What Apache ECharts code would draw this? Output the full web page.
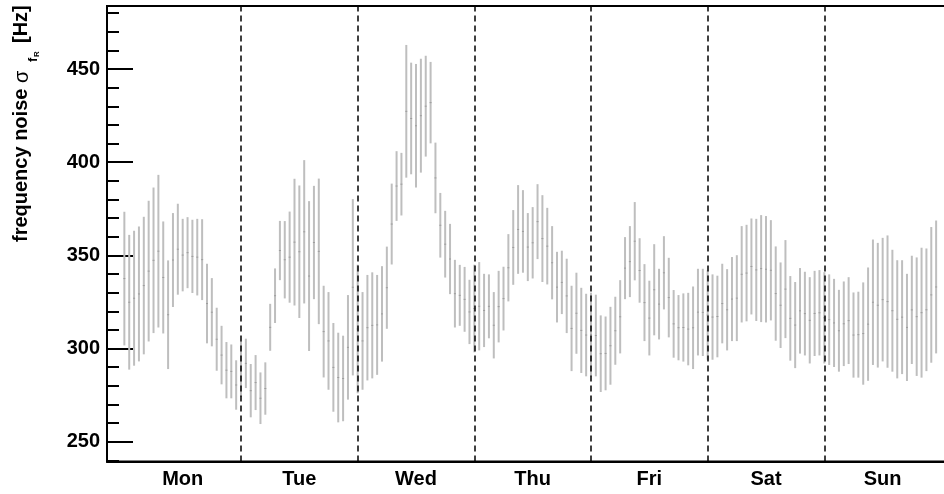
<!DOCTYPE html>
<html><head><meta charset="utf-8">
<script src="https://cdn.jsdelivr.net/npm/echarts@6/dist/echarts.min.js"></script>
<style>html,body{margin:0;padding:0;background:#fff}#c{width:944px;height:494px}</style>
</head><body><div id="c"></div>
<script>
// ---- data ----
const days = ['Mon','Tue','Wed','Thu','Fri','Sat','Sun'];
const yMajorTicks = [250,300,350,400,450];
const yMinorTicks = [240,260,270,280,290,310,320,330,340,360,370,380,390,410,420,430,440,460,470,480];

const monHigh = [373.4,361.0,363.2,365.5,370.7,379.3,386.4,393.2,368.2,347.3,372.7,377.7,369.6,370.5,369.1,369.6,369.4,345.5,337.8,321.9,312.2,303.5,302.2,293.7];
const monLow  = [301.7,288.7,290.8,293.1,296.9,303.8,308.3,311.3,308.1,289.0,322.3,328.9,330.7,332.4,329.8,328.5,326.0,302.8,301.2,288.1,280.8,273.3,273.3,267.2];
const tueHigh = [304.0,305.3,291.7,296.5,287.2,292.6,324.0,343.0,368.5,368.4,373.5,391.1,387.5,401.1,379.1,387.3,391.2,333.7,330.3,313.7,308.5,306.9,328.7,380.2];
const tueLow  = [274.0,278.8,263.1,267.0,259.5,264.5,298.8,313.7,336.7,326.9,324.6,323.1,316.4,324.2,298.7,326.5,313.1,284.5,277.9,266.1,260.4,261.0,272.6,285.6];
const wedHigh = [345.0,330.3,339.5,340.9,339.5,344.2,354.7,388.5,405.9,405.0,462.9,453.4,452.7,455.5,457.1,453.8,410.5,383.5,373.9,366.9,347.6,344.9,343.8,336.9];
const wedLow  = [276.0,277.9,282.9,284.0,285.9,293.0,310.6,345.1,368.5,371.4,391.7,393.5,386.4,394.4,403.0,410.1,372.6,348.8,338.1,329.2,311.3,312.2,309.0,302.4];
const thuHigh = [345.0,346.4,340.1,339.8,330.3,341.7,343.9,361.4,374.3,387.7,385.0,372.7,375.9,388.2,382.3,375.5,365.7,351.9,352.5,348.2,333.7,340.7,332.6,329.4];
const thuLow  = [298.0,299.0,300.8,305.5,294.7,303.3,309.7,325.3,334.2,340.1,340.7,336.2,337.6,348.0,335.7,334.4,326.4,314.0,318.5,308.3,287.9,297.2,286.9,285.1];
const friHigh = [330.0,328.9,317.8,317.2,322.4,327.8,336.7,359.8,365.7,378.6,359.2,345.3,336.4,356.0,342.8,360.3,348.7,331.4,328.7,329.6,329.9,333.3,342.8,342.8];
const friLow  = [285.0,285.1,276.7,277.6,280.6,291.3,297.4,326.5,327.6,336.6,324.6,304.0,296.3,307.1,304.9,321.0,306.0,295.1,293.7,293.0,291.0,289.0,296.3,296.0];
const satHigh = [342.0,339.8,339.1,345.5,342.6,349.1,350.1,365.7,366.4,369.8,369.6,371.6,371.1,368.9,354.8,346.2,358.2,338.9,335.7,343.2,341.2,338.3,341.7,342.1];
const satLow  = [294.0,294.0,295.3,302.8,299.0,304.0,304.0,314.0,314.6,318.3,314.8,314.2,314.0,315.1,304.2,300.3,305.6,293.5,289.5,297.3,296.3,292.0,296.0,296.3];
const sunHigh = [341.0,339.8,337.4,331.5,336.0,338.3,330.1,330.5,335.5,343.5,358.5,356.7,359.4,360.7,353.0,347.4,347.4,340.1,349.8,348.9,354.1,353.7,365.2,368.7];
const sunLow  = [292.0,291.2,290.1,287.6,290.6,291.7,284.4,284.4,280.6,282.7,291.2,289.8,293.1,289.7,287.6,284.0,286.3,282.6,291.7,285.3,284.4,287.9,292.4,297.4];

// ---- build ----
const highs = [].concat(monHigh,tueHigh,wedHigh,thuHigh,friHigh,satHigh,sunHigh);
const lows  = [].concat(monLow,tueLow,wedLow,thuLow,friLow,satLow,sunLow);
const HOURS = 24;
const seriesData = highs.map((h,i)=>[i, lows[i], h]);
const dayBounds = days.slice(1).map((d,i)=>(i+1)*HOURS);
const dayCenters = days.map((d,i)=>i*HOURS + HOURS/2);

const FONT = '"Liberation Sans", Arial, Helvetica, sans-serif';
const L = 107, T = 6, R = 946, B = 461.5;
const chart = echarts.init(document.getElementById('c'), null, {renderer:'canvas'});

const yMin = 239.4, yMax = 483.8;
const xMin = -3.57, xMax = 169.03;
const option = {
  animation: false,
  backgroundColor: '#fff',
  grid: {left: L, top: T, width: R - L, height: B - T, show: true, borderColor: '#000', borderWidth: 2, outerBoundsMode: 'none', containLabel: false},
  xAxis: {
    type: 'value', min: xMin, max: xMax,
    axisLine: {show: true, onZero: false, lineStyle: {color: '#000', width: 2}},
    axisTick: {show: false}, splitLine: {show: false},
    axisLabel: {customValues: dayCenters, formatter: v => days[Math.round((v - HOURS/2)/HOURS)],
      fontFamily: FONT, fontWeight: 'bold', fontSize: 20, color: '#000', margin: 8}
  },
  yAxis: [{
    type: 'value', min: yMin, max: yMax, position: 'left',
    axisLine: {show: true, onZero: false, lineStyle: {color: '#000', width: 2}},
    axisTick: {show: true, inside: true, length: 26, customValues: yMajorTicks, lineStyle: {color: '#000', width: 2}},
    axisLabel: {customValues: yMajorTicks, fontFamily: FONT, fontWeight: 'bold', fontSize: 20, color: '#000', margin: 7},
    splitLine: {show: false}
  }, {
    type: 'value', min: yMin, max: yMax, position: 'left', offset: 0,
    axisLine: {show: false, onZero: false},
    axisTick: {show: true, inside: true, length: 12, customValues: yMinorTicks, lineStyle: {color: '#000', width: 2}},
    axisLabel: {show: false}, splitLine: {show: false}
  }],
  graphic: [{
    type: 'group', x: 0, y: 242, rotation: Math.PI/2,
    children: [
      {type: 'text', x: 0, y: 21, style: {text: 'frequency noise ', font: 'bold 20px ' + FONT, fill: '#000', verticalAlign: 'middle', align: 'left'}},
      {type: 'text', x: 159, y: 22, style: {text: 'σ', font: '20px ' + FONT, fill: '#000', verticalAlign: 'middle', align: 'left'}},
      {type: 'text', x: 180, y: 33, style: {text: 'f', font: 'bold 13px ' + FONT, fill: '#000', verticalAlign: 'middle', align: 'left'}},
      {type: 'text', x: 185, y: 37, style: {text: 'R', font: 'bold 8px ' + FONT, fill: '#000', verticalAlign: 'middle', align: 'left'}},
      {type: 'text', x: 199, y: 21, style: {text: '[Hz]', font: 'bold 20px ' + FONT, fill: '#000', verticalAlign: 'middle', align: 'left'}}
    ]
  }],
  series: [{
    type: 'custom', xAxisIndex: 0, yAxisIndex: 0, clip: false,
    data: seriesData, encode: {x: 0, y: [1, 2]},
    renderItem: function (params, api) {
      const x = api.value(0), lo = api.value(1), hi = api.value(2);
      const p1 = api.coord([x, hi]), p2 = api.coord([x, lo]);
      const pm = api.coord([x, (lo + hi) / 2]);
      return {type: 'group', children: [
        {type: 'rect', shape: {x: p1[0] - 1, y: p1[1], width: 2, height: p2[1] - p1[1]}, style: {fill: '#bebebe'}},
        {type: 'rect', shape: {x: pm[0] - 1, y: pm[1] - 0.5, width: 2, height: 1}, style: {fill: '#9c9c9c'}}
      ]};
    },
    markLine: {
      silent: true, symbol: 'none', label: {show: false}, animation: false,
      lineStyle: {color: '#000', width: 1.5, type: [6, 4]},
      data: dayBounds.map(v => ({xAxis: v}))
    }
  }]
};
chart.setOption(option);
</script>
</body></html>
